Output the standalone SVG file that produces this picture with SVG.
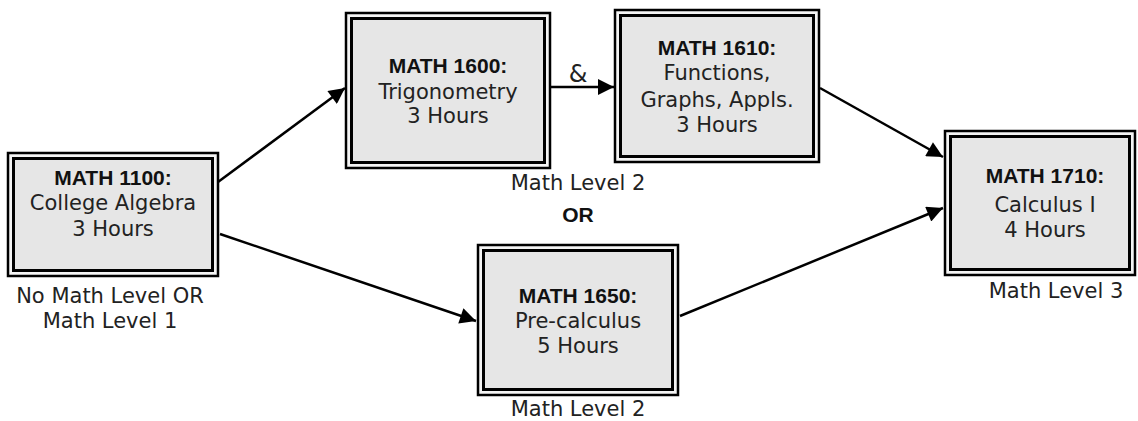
<svg xmlns="http://www.w3.org/2000/svg" width="1138" height="421" viewBox="0 0 1138 421">
<defs>
<style>
.o{fill:#f4f4f4;stroke:#000;stroke-width:2.5}
.i{fill:#e6e6e6;stroke:#000;stroke-width:3}
text{font-family:"DejaVu Sans","Liberation Sans",sans-serif;font-size:21px;fill:#222;text-anchor:middle}
.b{font-family:"Liberation Sans",Arial,sans-serif;font-weight:bold;font-size:21px;fill:#111}
.c{stroke:#000;stroke-width:2.5;fill:none;marker-end:url(#ah)}
</style>
<marker id="ah" viewBox="0 0 10 10" refX="10" refY="5" markerWidth="8" markerHeight="6.4" markerUnits="strokeWidth" orient="auto">
<path d="M0,0 L10,5 L0,10 z" fill="#000"/>
</marker>
</defs>
<rect width="1138" height="421" fill="#fff"/>
<g id="connectors">
<line class="c" x1="218" y1="182" x2="345" y2="88"/>
<line class="c" x1="220" y1="234" x2="476" y2="321"/>
<line class="c" x1="551" y1="87" x2="614" y2="87"/>
<line class="c" x1="820" y1="88" x2="943" y2="157"/>
<line class="c" x1="680" y1="316" x2="943" y2="208"/>
</g>
<g id="math1100">
<rect class="o" x="8" y="153" width="210" height="123"/>
<rect class="i" x="13.5" y="158.5" width="199" height="112"/>
<text class="b" x="113" y="185">MATH 1100:</text>
<text x="113" y="210">College Algebra</text>
<text x="113" y="236">3 Hours</text>
<text x="110" y="303">No Math Level OR</text>
<text x="110" y="328">Math Level 1</text>
</g>
<g id="math1600">
<rect class="o" x="346" y="13" width="204" height="155"/>
<rect class="i" x="351.5" y="18.5" width="193" height="144"/>
<text class="b" x="448" y="73">MATH 1600:</text>
<text x="448" y="99">Trigonometry</text>
<text x="448" y="123">3 Hours</text>
</g>
<g id="and-label">
<text x="578" y="82" style="font-size:24px">&amp;</text>
</g>
<g id="math1610">
<rect class="o" x="615" y="10" width="204" height="152"/>
<rect class="i" x="620.5" y="15.5" width="193" height="141"/>
<text class="b" x="717" y="55">MATH 1610:</text>
<text x="717" y="80">Functions,</text>
<text x="717" y="107">Graphs, Appls.</text>
<text x="717" y="132">3 Hours</text>
</g>
<g id="level2-top">
<text x="578" y="190">Math Level 2</text>
<text class="b" x="578" y="222">OR</text>
</g>
<g id="math1650">
<rect class="o" x="478" y="245" width="200" height="150"/>
<rect class="i" x="483.5" y="250.5" width="189" height="139"/>
<text class="b" x="578" y="303">MATH 1650:</text>
<text x="578" y="328">Pre-calculus</text>
<text x="578" y="353">5 Hours</text>
<text x="578" y="416">Math Level 2</text>
</g>
<g id="math1710">
<rect class="o" x="945" y="131" width="190" height="144"/>
<rect class="i" x="950.5" y="136.5" width="179" height="133"/>
<text class="b" x="1045" y="183">MATH 1710:</text>
<text x="1045" y="212">Calculus I</text>
<text x="1045" y="237">4 Hours</text>
<text x="1056" y="298">Math Level 3</text>
</g>
</svg>
